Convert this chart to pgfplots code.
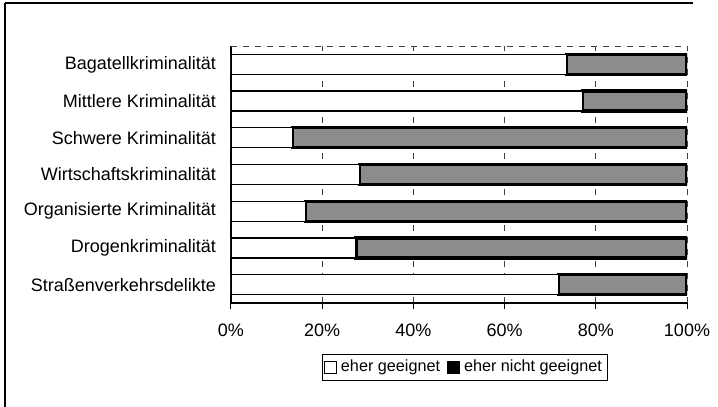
\documentclass[border=0pt]{standalone}
\usepackage{fontspec}
\setmainfont{Liberation Sans}
\usepackage{pgfplots}
\pgfplotsset{compat=1.18}
\begin{document}
\begin{tikzpicture}[x=1pt,y=1pt]
\path[use as bounding box] (0,0) rectangle (359,203.5);
% outer frame (top and left)
\draw[black, line width=0.6pt] (2.5,202) -- (346.5,202);
\draw[black, line width=0.6pt] (2.5,202) -- (2.5,0);
\begin{axis}[
  at={(115.5pt,52pt)}, anchor=south west,
  scale only axis, width=228pt, height=128.5pt,
  xbar stacked, bar width=10pt,
  xmin=0, xmax=100, ymin=0.5, ymax=7.5,
  axis x line*=bottom, axis y line*=left,
  axis line style={black, line width=0.6pt},
  xtick={0,20,40,60,80,100},
  xticklabel={\pgfmathprintnumber{\tick}\%},
  /pgf/number format/assume math mode=true,
  xtick style={black, line width=0.5pt},
  tick align=outside, major tick length=3pt,
  xmajorgrids, grid style={black!75, dashed, line width=0.4pt},
  ytick={1,...,7},
  yticklabels={Straßenverkehrsdelikte,Drogenkriminalität,Organisierte Kriminalität,Wirtschaftskriminalität,Schwere Kriminalität,Mittlere Kriminalität,Bagatellkriminalität},
  ytick style={draw=none},
  minor ytick={0.5,1.5,...,7.5},
  minor tick length=3pt,
  minor tick style={black, line width=0.5pt},
  tick label style={font=\fontsize{9}{10}\selectfont, text=black},
  yticklabel style={xshift=-1pt},
  xticklabel style={yshift=-4pt},
  legend style={at={(0.513,-0.251)}, anchor=center, legend columns=2,
     draw=black, line width=0.4pt, font=\fontsize{8.1}{9}\selectfont,
     inner sep=1pt, /tikz/every even column/.append style={column sep=1.5pt}},
  legend image code/.code={\draw[#1, line width=0.5pt] (0pt,-3pt) rectangle (6pt,3pt);},
  legend cell align=left,
]
\addplot[fill=white, draw=black, line width=0.6pt] coordinates {
 (71.9,1) (27.4,2) (16.4,3) (28.1,4) (13.4,5) (77.1,6) (73.6,7)};
\addplot[fill=black!45, draw=black, line width=1.6pt,
  legend image post style={fill=black}] coordinates {
 (28.1,1) (72.6,2) (83.6,3) (71.9,4) (86.6,5) (22.9,6) (26.4,7)};
\legend{eher geeignet, eher nicht geeignet}
\draw[black!75, dashed, line width=0.4pt] (rel axis cs:0,1) -- (rel axis cs:1,1);
\end{axis}
\end{tikzpicture}
\end{document}
